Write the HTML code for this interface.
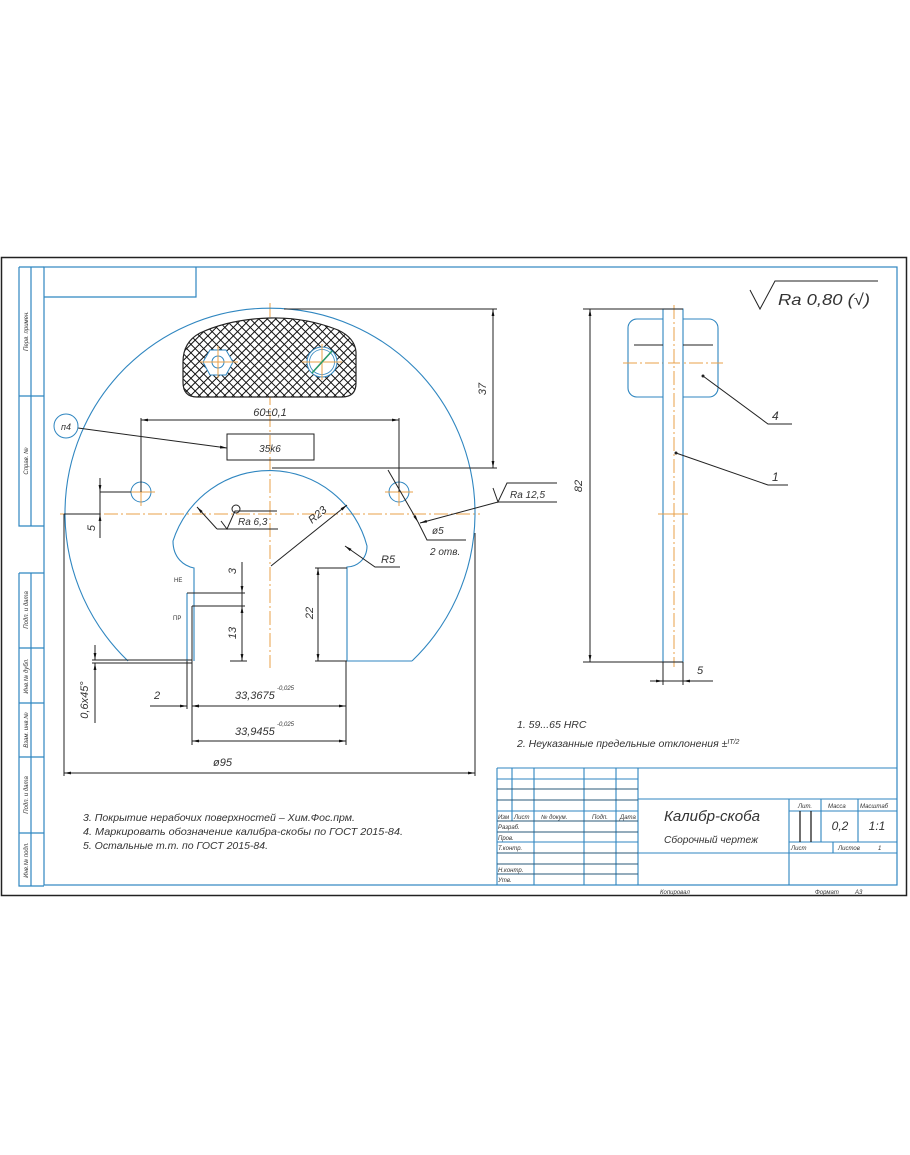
<!DOCTYPE html>
<html><head><meta charset="utf-8"><style>
html,body{margin:0;padding:0;background:#fff;}
svg{display:block;}
text{font-family:"Liberation Sans","DejaVu Sans",sans-serif;font-style:italic;fill:#333;}
</style></head><body>
<svg width="910" height="1155" viewBox="0 0 910 1155" xmlns="http://www.w3.org/2000/svg">
<defs>
<pattern id="h" width="6" height="6" patternUnits="userSpaceOnUse" patternTransform="rotate(45)">
<rect width="6" height="6" fill="#fff"/>
<path d="M0,0.5H6M0.5,0V6" stroke="#111" stroke-width="1"/>
</pattern>
<marker id="a" viewBox="0 0 10 4" refX="10" refY="2" markerWidth="7" markerHeight="3" orient="auto-start-reverse" markerUnits="userSpaceOnUse">
<path d="M0,0L10,2L0,4z" fill="#111"/>
</marker>
</defs>
<rect x="0" y="0" width="910" height="1155" fill="#fff"/>

<!-- outer frame -->
<rect x="1.5" y="257.5" width="905" height="638" fill="none" stroke="#222" stroke-width="1.5"/>
<g stroke="#2f86c0" stroke-width="1.2" fill="none">
<rect x="44" y="267" width="853" height="618"/>
<path d="M44,297H196V267"/>
<path d="M19,267V526H44M31,267V526M19,267H44M19,396H44"/>
<path d="M19,573H44M19,573V886H44M31,573V886M19,648H44M19,703H44M19,757H44M19,833H44"/>
</g>
<g font-size="6" fill="#555">
<text transform="translate(28,331) rotate(-90)" text-anchor="middle">Перв. примен.</text>
<text transform="translate(28,461) rotate(-90)" text-anchor="middle">Справ. №</text>
<text transform="translate(28,610) rotate(-90)" text-anchor="middle">Подп. и дата</text>
<text transform="translate(28,676) rotate(-90)" text-anchor="middle">Инв.№ дубл.</text>
<text transform="translate(28,730) rotate(-90)" text-anchor="middle">Взам. инв.№</text>
<text transform="translate(28,795) rotate(-90)" text-anchor="middle">Подп. и дата</text>
<text transform="translate(28,860) rotate(-90)" text-anchor="middle">Инв.№ подл.</text>
</g>

<!-- main view: center lines -->
<g stroke="#e8a04a" stroke-width="1" stroke-dasharray="14,3,2,3" fill="none">
<path d="M270,303V668"/>
<path d="M60,514H480"/>
</g>

<!-- circle outline -->
<g stroke="#2f86c0" stroke-width="1.1" fill="none">
<path d="M128,661 A205,205 0 1 1 412,661"/>
<path d="M347,661H412"/>
<path d="M194,661V568 C184,566 173,558 173,541 A101,101 0 0 1 367,546 C367,560 356,567 347,567 V661"/>
<path d="M187,593V661"/>
</g>

<!-- hatched handle -->
<path d="M197,397 L342,397 Q356,397 356,383 L356,352 Q355,338 338,330 Q305,317 270,318 Q230,319 200,333 Q183,342 183,362 L183,382 Q183,397 197,397 Z" fill="url(#h)" stroke="#222" stroke-width="1.2"/>
<polygon points="203,362 210,350 226,350 233,362 226,375 210,375" fill="#fff" stroke="#2f86c0" stroke-width="1"/>
<circle cx="218" cy="362" r="6" fill="#fff" stroke="#2f86c0" stroke-width="1"/>
<circle cx="322" cy="362" r="15" fill="#fff" stroke="#2f86c0" stroke-width="1"/>
<circle cx="322" cy="362" r="12.5" fill="none" stroke="#2f86c0" stroke-width="0.8"/>
<g stroke="#e8a04a" stroke-width="1">
<path d="M200,362H238M218,346V378M302,362H342M322,344V380"/>
</g>
<path d="M312,373L332,351" stroke="#2a9a6a" stroke-width="1.6"/>

<!-- small holes -->
<g stroke="#2f86c0" fill="none" stroke-width="1">
<circle cx="141" cy="492" r="10"/>
<circle cx="399" cy="492" r="10"/>
</g>
<g stroke="#e8a04a" stroke-width="1">
<path d="M127,492H155M141,478V506M385,492H413M399,478V506"/>
</g>

<!-- dimension lines -->
<g stroke="#222" stroke-width="1" fill="none">
<path d="M141,418V492M399,418V492"/>
<path d="M141,420H399" marker-start="url(#a)" marker-end="url(#a)"/>
<path d="M284,309H497M272,468H497"/>
<path d="M493,309V468" marker-start="url(#a)" marker-end="url(#a)"/>
<path d="M100,492H131M64,514H100"/>
<path d="M100,478V492" marker-end="url(#a)"/>
<path d="M100,538V514" marker-end="url(#a)"/>
<path d="M100,492V514"/>
<path d="M78,428L227,448" marker-end="url(#a)"/>
<rect x="227" y="434" width="87" height="26"/>
<path d="M217,529L197,507" marker-end="url(#a)"/>
<path d="M217,529H278M221,521L227,529L235,511H277"/>
<path d="M271,566L347,505" marker-end="url(#a)"/>
<path d="M400,567H375L345,546" marker-end="url(#a)"/>
<path d="M388,470L418,522" marker-end="url(#a)"/>
<path d="M418,522L427,540H466"/>
<path d="M498,502L420,523" marker-end="url(#a)"/>
<path d="M493,488L498,502L507,483H557M498,502H557"/>
<path d="M187,593H245M192,606H245M192,606V745M187,661V709"/>
<path d="M242,562V593" marker-end="url(#a)"/>
<path d="M242,606V661" marker-start="url(#a)" marker-end="url(#a)"/>
<path d="M242,593V606"/>
<path d="M230,661H247"/>
<path d="M315,568H347M315,661H347"/>
<path d="M318,568V661" marker-start="url(#a)" marker-end="url(#a)"/>
<path d="M92,660H192M92,663H192"/>
<path d="M95,645V660" marker-end="url(#a)"/>
<path d="M95,723V663" marker-end="url(#a)"/>
<path d="M150,706H187" marker-end="url(#a)"/>
<path d="M205,706H192" marker-end="url(#a)"/>
<path d="M192,706H346" marker-start="url(#a)" marker-end="url(#a)"/>
<path d="M346,661V745"/>
<path d="M192,741H346" marker-start="url(#a)" marker-end="url(#a)"/>
<path d="M64,514V776M475,533V776"/>
<path d="M64,773H475" marker-start="url(#a)" marker-end="url(#a)"/>
</g>
<circle cx="66" cy="426" r="12" fill="#fff" stroke="#2f86c0" stroke-width="1"/>
<circle cx="236" cy="509" r="4" fill="none" stroke="#222" stroke-width="1"/>

<!-- main view labels -->
<g font-size="11">
<text x="66" y="430" text-anchor="middle" font-size="9">п4</text>
<text x="270" y="416" text-anchor="middle">60±0,1</text>
<text x="270" y="452" text-anchor="middle" font-size="10">35k6</text>
<text transform="translate(486,389) rotate(-90)" text-anchor="middle">37</text>
<text transform="translate(95,528) rotate(-90)" text-anchor="middle">5</text>
<text x="238" y="525" font-size="10">Ra 6,3</text>
<text transform="translate(312,524) rotate(-40)" font-size="11">R23</text>
<text x="381" y="563" font-size="11">R5</text>
<text x="432" y="534" font-size="10">ø5</text>
<text x="430" y="555" font-size="10">2 отв.</text>
<text x="510" y="498" font-size="10">Ra 12,5</text>
<text x="174" y="582" font-size="6" style="font-style:normal">НЕ</text>
<text x="173" y="620" font-size="6" style="font-style:normal">ПР</text>
<text transform="translate(236,571) rotate(-90)" text-anchor="middle">3</text>
<text transform="translate(236,633) rotate(-90)" text-anchor="middle">13</text>
<text transform="translate(313,613) rotate(-90)" text-anchor="middle">22</text>
<text transform="translate(88,700) rotate(-90)" text-anchor="middle" font-size="11">0,6х45°</text>
<text x="157" y="699" text-anchor="middle">2</text>
<text x="235" y="699" font-size="11">33,3675</text>
<text x="277" y="690" font-size="6">-0,025</text>
<text x="235" y="735" font-size="11">33,9455</text>
<text x="277" y="726" font-size="6">-0,025</text>
<text x="213" y="766" font-size="11">ø95</text>
</g>

<!-- side view -->
<g stroke="#2f86c0" stroke-width="1.1" fill="none">
<rect x="628" y="319" width="90" height="78" rx="9"/>
</g>
<g stroke="#e8a04a" stroke-width="1" stroke-dasharray="14,3,2,3" fill="none">
<path d="M623,363H723"/>
</g>
<rect x="663" y="309" width="20" height="353" fill="#fff" stroke="#2f86c0" stroke-width="1.1"/>
<path d="M674,305V667" stroke="#e8a04a" stroke-width="1" stroke-dasharray="14,3,2,3"/>
<path d="M658,514H688" stroke="#e8a04a" stroke-width="1"/>
<path d="M668,363H680" stroke="#e8a04a" stroke-width="1"/>
<g stroke="#222" stroke-width="1" fill="none">
<path d="M634,345H663M683,345H713"/>
<path d="M583,309H683M583,662H683"/>
<path d="M590,309V662" marker-start="url(#a)" marker-end="url(#a)"/>
<path d="M703,376L768,424H792"/>
<path d="M676,453L768,485H788"/>
<path d="M663,662V685M683,662V685"/>
<path d="M650,681H663" marker-end="url(#a)"/>
<path d="M713,681H683" marker-end="url(#a)"/>
<path d="M663,681H683"/>
<path d="M750,290L760,309L775,281H878"/>
</g>
<circle cx="703" cy="376" r="1.5" fill="#222"/>
<circle cx="676" cy="453" r="1.5" fill="#222"/>
<g font-size="11">
<text transform="translate(582,486) rotate(-90)" text-anchor="middle">82</text>
<text x="772" y="420" font-size="12">4</text>
<text x="772" y="481" font-size="12">1</text>
<text x="697" y="674">5</text>
<text x="778" y="305" font-size="16" textLength="92" lengthAdjust="spacingAndGlyphs">Ra 0,80 (√)</text>
</g>

<!-- notes -->
<g font-size="10.5">
<text x="517" y="728">1. 59...65 HRC</text>
<text x="517" y="747">2. Неуказанные предельные отклонения ±<tspan font-size="7" dy="-3">IT</tspan><tspan font-size="7" dy="0">/2</tspan></text>
<text x="83" y="821" textLength="272" lengthAdjust="spacingAndGlyphs">3. Покрытие нерабочих поверхностей – Хим.Фос.прм.</text>
<text x="83" y="835" textLength="320" lengthAdjust="spacingAndGlyphs">4. Маркировать обозначение калибра-скобы по ГОСТ 2015-84.</text>
<text x="83" y="849" textLength="185" lengthAdjust="spacingAndGlyphs">5. Остальные т.т. по ГОСТ 2015-84.</text>
</g>

<!-- title block -->
<g stroke="#2f86c0" stroke-width="1.1" fill="none">
<path d="M497,768H897M497,768V885"/>
<path d="M512,768V821M534,768V885M584,768V885M616,768V885M638,768V885"/>
<path d="M497,779H638M497,789H638M497,800H638M497,811H638M497,821H638M497,832H638M497,842H638M497,853H638M497,864H638M497,874H638"/>
<path d="M638,799H897M789,799V885M638,853H897"/>
<path d="M789,811H897M789,842H897M821,799V842M858,799V842M833,842V853"/>
</g>
<g stroke="#222" stroke-width="1.3">
<path d="M497,789H638M497,800H638M497,821H638M497,832H638M497,853H638M497,864H638M497,874H638" stroke-width="0.8" opacity="0.6"/>
<path d="M800,811V842M811,811V842"/>
</g>
<g font-size="6" fill="#444">
<text x="498" y="819">Изм</text>
<text x="514" y="819">Лист</text>
<text x="541" y="819">№ докум.</text>
<text x="592" y="819">Подп.</text>
<text x="620" y="819">Дата</text>
<text x="498" y="829">Разраб.</text>
<text x="498" y="840">Пров.</text>
<text x="498" y="850">Т.контр.</text>
<text x="498" y="872">Н.контр.</text>
<text x="498" y="882">Утв.</text>
<text x="798" y="808">Лит.</text>
<text x="828" y="808">Масса</text>
<text x="860" y="808">Масштаб</text>
<text x="791" y="850">Лист</text>
<text x="838" y="850">Листов</text>
<text x="878" y="850">1</text>
<text x="660" y="894">Копировал</text>
<text x="815" y="894">Формат</text>
<text x="855" y="894">А3</text>
</g>
<text x="664" y="821" font-size="15" textLength="96" lengthAdjust="spacingAndGlyphs">Калибр-скоба</text>
<text x="664" y="843" font-size="10" textLength="94" lengthAdjust="spacingAndGlyphs">Сборочный чертеж</text>
<text x="840" y="830" font-size="12" text-anchor="middle">0,2</text>
<text x="877" y="830" font-size="12" text-anchor="middle">1:1</text>
</svg>
</body></html>
